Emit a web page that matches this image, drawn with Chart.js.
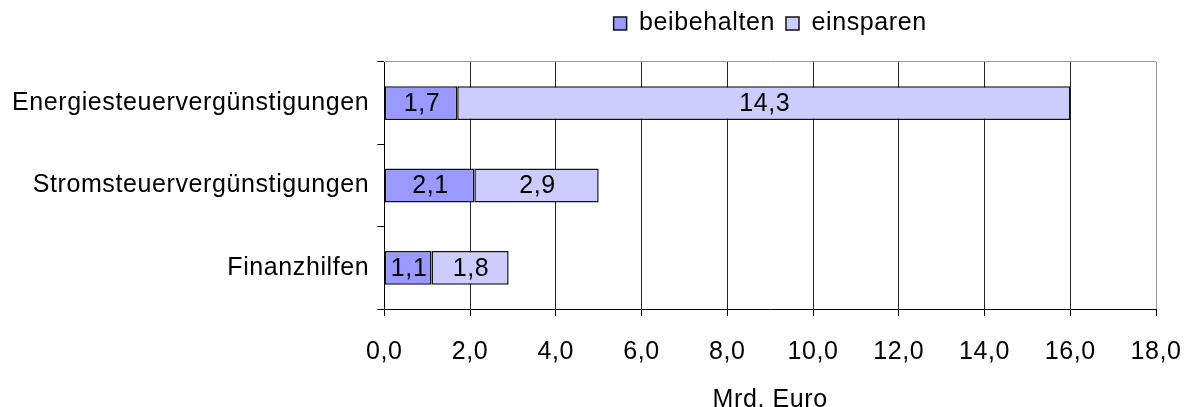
<!DOCTYPE html>
<html>
<head>
<meta charset="utf-8">
<script src="https://cdn.jsdelivr.net/npm/chart.js@4.4.0/dist/chart.umd.min.js"></script>
<style>
  html, body { margin: 0; padding: 0; background: #fff; }
  #wrap { width: 1186px; height: 407px; }
</style>
</head>
<body>
<div id="wrap"><canvas id="myChart"></canvas></div>
<script>
"use strict";

const categories = ["Energiesteuervergünstigungen", "Stromsteuervergünstigungen", "Finanzhilfen"];
const beibehalten = [1.7, 2.1, 1.1];
const einsparen = [14.3, 2.9, 1.8];
const xTicks = [0, 2, 4, 6, 8, 10, 12, 14, 16, 18];

const font = "Arial, 'Liberation Sans', sans-serif";
const fontSize = 25;
const spacing = "0.6px";
Chart.defaults.font.family = font;
Chart.defaults.font.size = fontSize;
Chart.defaults.color = "#000";

const fmt = (v) => v.toFixed(1).replace(".", ",");

// the original text is set a touch wider than plain Arial
const wideText = {
  id: "wideText",
  beforeLayout(chart) {
    chart.ctx.letterSpacing = spacing;
  },
  beforeDraw(chart) {
    chart.ctx.letterSpacing = spacing;
  },
};

// values written in the middle of each bar segment
const barLabels = {
  id: "barLabels",
  afterDatasetsDraw(chart) {
    const ctx = chart.ctx;
    ctx.save();
    ctx.font = fontSize + "px " + font;
    ctx.letterSpacing = spacing;
    ctx.fillStyle = "#000";
    ctx.textAlign = "center";
    ctx.textBaseline = "middle";
    chart.data.datasets.forEach((ds, i) => {
      chart.getDatasetMeta(i).data.forEach((bar, j) => {
        const p = bar.getCenterPoint();
        ctx.fillText(fmt(ds.data[j]), p.x + 1, p.y + 1);
      });
    });
    ctx.restore();
  },
};

const ctx = document.getElementById("myChart");

new Chart(ctx, {
  type: "bar",
  data: {
    labels: categories,
    datasets: [
      {
        label: "beibehalten",
        data: beibehalten,
        backgroundColor: "#9999FF",
        borderColor: "#111",
        borderWidth: 1.5,
        borderSkipped: false,
        barPercentage: 0.41,
        categoryPercentage: 1,
      },
      {
        label: "einsparen",
        data: einsparen,
        backgroundColor: "#CCCCFF",
        borderColor: "#111",
        borderWidth: 1.5,
        borderSkipped: false,
        barPercentage: 0.41,
        categoryPercentage: 1,
      },
    ],
  },
  options: {
    indexAxis: "y",
    responsive: true,
    maintainAspectRatio: false,
    animation: false,
    layout: {
      padding: { top: 0, right: 0, left: 4, bottom: -6 },
    },
    scales: {
      x: {
        stacked: true,
        min: 0,
        max: 18,
        afterBuildTicks: (axis) => {
          axis.ticks = xTicks.map((v) => ({ value: v }));
        },
        afterFit: (s) => {
          s.paddingRight = 30;
        },
        ticks: {
          callback: (v) => fmt(v),
          padding: 21,
          maxRotation: 0,
        },
        grid: {
          color: (c) => (c.tick && c.tick.value === 18 ? "#999" : "#222"),
          tickColor: "#000",
          tickLength: 7,
        },
        border: { color: "#000", width: 1 },
        title: {
          display: true,
          text: "Mrd. Euro",
          font: { lineHeight: 1 },
          padding: { top: 0, bottom: 0 },
        },
      },
      // empty strip between legend and plot
      gap: {
        position: "top",
        display: true,
        grid: { display: false },
        border: { display: false },
        ticks: { display: false },
        afterFit: (s) => {
          s.height = 16;
        },
      },
      y: {
        stacked: true,
        ticks: { padding: 8 },
        grid: {
          offset: true,
          color: (c) => (c.index === 0 ? "#999" : "transparent"),
          tickColor: "#000",
          tickLength: 7,
        },
        border: { color: "#000", width: 1 },
      },
    },
    plugins: {
      legend: {
        position: "top",
        fullSize: false,
        labels: {
          boxWidth: 13,
          boxHeight: 13,
          padding: 11,
          font: { size: fontSize },
        },
      },
      tooltip: { enabled: false },
    },
  },
  plugins: [wideText, barLabels],
});
</script>
</body>
</html>
